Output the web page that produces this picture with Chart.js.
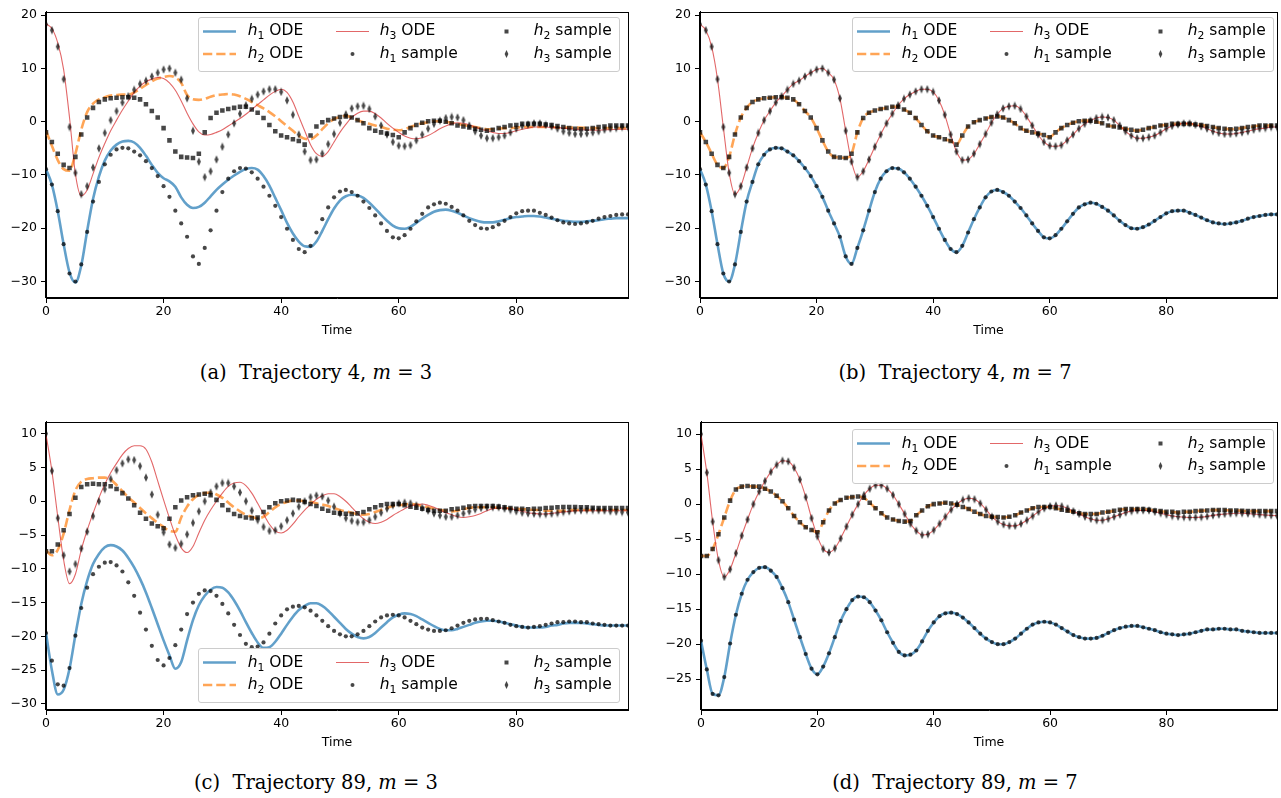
<!DOCTYPE html>
<html>
<head>
<meta charset="utf-8">
<script src="https://cdn.jsdelivr.net/npm/chart.js@4.4.1/dist/chart.umd.min.js"></script>
<style>
  body { margin: 0; background: #fff; width: 1281px; height: 798px; position: relative; overflow: hidden; font-family: "DejaVu Sans", sans-serif; }
  .panel { position: absolute; }
  .legend { position: absolute; width: 422px; height: 55px; box-sizing: border-box; border: 1px solid #cccccc; border-radius: 3px; background: rgba(255,255,255,0.8); }
  .legend svg { position: absolute; left: -1px; top: -1px; }
  .lt { position: absolute; font-size: 15.5px; line-height: 1; white-space: nowrap; transform: translateY(-50%); color: #000; }
  .lt sub { font-size: 0.7em; vertical-align: -0.3em; line-height: 0; }
  .caption { position: absolute; font-family: "DejaVu Serif", serif; font-size: 19.5px; line-height: 1; white-space: nowrap; transform: translate(-50%, -50%); color: #000; }
</style>
</head>
<body>
<div class="panel" style="left:0px;top:0px"><canvas id="ca" width="640" height="345"></canvas></div>
<div class="panel" style="left:655px;top:0px"><canvas id="cb" width="626" height="345"></canvas></div>
<div class="panel" style="left:0px;top:410px"><canvas id="cc" width="640" height="345"></canvas></div>
<div class="panel" style="left:655px;top:410px"><canvas id="cd" width="626" height="345"></canvas></div>

<div class="caption" style="left:316px;top:373px">(a)&nbsp; Trajectory 4, <i>m</i> = 3</div>
<div class="caption" style="left:955px;top:373px">(b)&nbsp; Trajectory 4, <i>m</i> = 7</div>
<div class="caption" style="left:316px;top:783px">(c)&nbsp; Trajectory 89, <i>m</i> = 3</div>
<div class="caption" style="left:955px;top:783px">(d)&nbsp; Trajectory 89, <i>m</i> = 7</div>

<script>
const time = [
  0, 1, 2, 3, 4, 5, 6, 7, 8, 9,
  10, 11, 12, 13, 14, 15, 16, 17, 18, 19,
  20, 21, 22, 23, 24, 25, 26, 27, 28, 29,
  30, 31, 32, 33, 34, 35, 36, 37, 38, 39,
  40, 41, 42, 43, 44, 45, 46, 47, 48, 49,
  50, 51, 52, 53, 54, 55, 56, 57, 58, 59,
  60, 61, 62, 63, 64, 65, 66, 67, 68, 69,
  70, 71, 72, 73, 74, 75, 76, 77, 78, 79,
  80, 81, 82, 83, 84, 85, 86, 87, 88, 89,
  90, 91, 92, 93, 94, 95, 96, 97, 98, 99
];

// trajectory 4 samples (also the m = 7 fit, which sits on them)
const traj4H1 = [
  -8.9, -11.8, -16.8, -23.0, -28.5, -30.0, -26.8, -20.7, -15.0, -11.3,
  -8.0, -6.2, -5.2, -4.9, -5.0, -5.6, -6.3, -7.4, -8.7, -10.2,
  -12.1, -14.1, -16.7, -19.1, -21.6, -25.3, -26.7, -23.7, -20.4, -16.7,
  -13.2, -10.7, -9.3, -8.7, -8.8, -9.5, -10.7, -12.2, -13.9, -15.8,
  -17.9, -20.1, -22.2, -23.9, -24.5, -23.3, -20.8, -18.3, -16.1, -14.2,
  -13.1, -12.8, -13.2, -13.9, -15.0, -16.2, -17.6, -19.1, -20.5, -21.7,
  -21.9, -21.3, -20.1, -18.7, -17.3, -16.1, -15.5, -15.2, -15.4, -16.0,
  -16.7, -17.6, -18.6, -19.4, -20.0, -20.1, -19.8, -19.3, -18.6, -17.9,
  -17.2, -16.8, -16.7, -16.7, -17.1, -17.5, -18.0, -18.5, -18.9, -19.1,
  -19.2, -19.1, -18.9, -18.6, -18.2, -17.9, -17.7, -17.5, -17.4, -17.4
];
const traj4H2 = [
  -2.0, -3.8, -6.0, -8.1, -8.7, -6.6, -2.4, 0.8, 2.6, 3.7,
  4.2, 4.4, 4.5, 4.6, 4.6, 4.5, 4.2, 3.3, 2.0, 0.8,
  -1.2, -3.5, -5.6, -6.6, -6.7, -6.8, -6.0, -2.0, 0.7, 1.7,
  2.1, 2.4, 2.6, 2.8, 2.8, 2.3, 1.7, 0.7, -0.6, -1.8,
  -2.6, -2.9, -3.3, -3.6, -4.3, -2.6, -0.9, -0.1, 0.3, 0.6,
  0.9, 1.0, 0.8, 0.3, -0.3, -1.2, -1.7, -2.0, -2.2, -2.5,
  -2.9, -2.0, -1.2, -0.6, -0.2, 0.1, 0.2, 0.2, 0.0, -0.3,
  -0.7, -0.9, -1.1, -1.3, -1.5, -1.7, -1.5, -1.2, -1.0, -0.7,
  -0.6, -0.4, -0.4, -0.4, -0.4, -0.5, -0.6, -0.8, -1.0, -1.2,
  -1.3, -1.4, -1.3, -1.2, -1.0, -0.9, -0.7, -0.7, -0.7, -0.7
];
const traj4H3 = [
  18.3, 17.2, 14.1, 8.0, -1.0, -9.6, -13.6, -12.1, -8.6, -5.0,
  -2.1, 0.3, 2.0, 3.6, 4.8, 6.0, 7.1, 7.7, 8.5, 9.2,
  9.8, 10.0, 9.2, 7.9, 4.4, -1.7, -7.5, -10.4, -9.3, -7.1,
  -4.7, -2.4, -0.3, 1.5, 3.1, 4.3, 5.1, 5.7, 6.1, 6.1,
  5.6, 4.0, 1.3, -2.4, -5.6, -7.2, -7.1, -6.0, -4.2, -2.3,
  -0.2, 1.4, 2.5, 2.9, 3.0, 2.4, 1.0, -0.7, -2.4, -3.8,
  -4.5, -4.6, -4.4, -3.5, -2.4, -1.3, -0.4, 0.2, 0.7, 0.9,
  0.8, 0.3, -0.7, -1.8, -2.6, -3.1, -3.1, -2.9, -2.6, -2.0,
  -1.3, -0.8, -0.5, -0.3, -0.3, -0.6, -0.9, -1.3, -1.8, -2.1,
  -2.3, -2.3, -2.2, -2.0, -1.8, -1.5, -1.3, -1.2, -1.0, -1.0
];

// trajectory 89 samples (also the m = 7 fit)
const traj89H1 = [
  -19.5, -23.6, -27.1, -27.3, -24.7, -19.9, -15.8, -12.8, -10.8, -9.7,
  -9.1, -9.0, -9.5, -10.4, -12.0, -14.0, -16.5, -19.0, -21.4, -23.5,
  -24.3, -23.2, -21.3, -19.0, -16.7, -15.0, -13.7, -13.2, -13.3, -14.0,
  -15.2, -16.6, -18.3, -19.8, -21.1, -21.6, -21.5, -20.9, -19.6, -18.1,
  -16.9, -16.0, -15.6, -15.5, -15.7, -16.2, -16.9, -17.7, -18.5, -19.2,
  -19.7, -20.0, -20.0, -19.7, -19.2, -18.5, -17.8, -17.2, -16.9, -16.8,
  -16.9, -17.2, -17.7, -18.2, -18.7, -19.0, -19.2, -19.2, -19.1, -18.8,
  -18.4, -18.0, -17.7, -17.5, -17.4, -17.4, -17.6, -17.8, -18.0, -18.3,
  -18.5, -18.6, -18.7, -18.6, -18.5, -18.3, -18.1, -17.9, -17.9, -17.8,
  -17.8, -17.9, -17.9, -18.1, -18.2, -18.3, -18.4, -18.4, -18.4, -18.4
];
const traj89H2 = [
  -7.4, -7.4, -6.4, -4.3, -1.9, 0.5, 2.1, 2.5, 2.6, 2.5,
  2.5, 2.2, 1.8, 1.2, 0.4, -0.6, -1.7, -2.6, -3.3, -3.7,
  -4.0, -2.6, -0.9, 0.1, 0.6, 0.9, 1.0, 1.1, 0.9, 0.2,
  -0.6, -1.3, -1.9, -2.2, -2.4, -2.5, -2.4, -1.6, -0.9, -0.3,
  0.0, 0.1, 0.2, 0.1, -0.1, -0.4, -0.7, -1.1, -1.4, -1.7,
  -1.8, -1.85, -1.9, -1.8, -1.6, -1.2, -0.9, -0.6, -0.4, -0.4,
  -0.4, -0.6, -0.8, -0.95, -1.1, -1.3, -1.4, -1.4, -1.4, -1.2,
  -1.1, -0.95, -0.8, -0.7, -0.7, -0.7, -0.7, -0.8, -0.9, -1.0,
  -1.1, -1.1, -1.2, -1.1, -1.1, -1.0, -0.95, -0.9, -0.85, -0.85,
  -0.85, -0.9, -0.9, -0.95, -1.0, -1.0, -1.0, -1.0, -1.0, -1.0
];
const traj89H3 = [
  10.0, 4.5, -2.5, -8.0, -10.4, -9.3, -7.0, -4.5, -2.2, 0.0,
  1.8, 3.3, 4.6, 5.6, 6.2, 6.1, 5.2, 3.5, 1.0, -2.0,
  -4.6, -6.4, -6.9, -6.3, -4.9, -3.2, -1.5, 0.0, 1.3, 2.2,
  2.7, 2.7, 2.2, 1.3, 0.0, -1.4, -2.8, -3.8, -4.4, -4.3,
  -3.7, -2.8, -1.8, -0.8, 0.0, 0.6, 0.85, 0.7, 0.1, -0.8,
  -1.8, -2.5, -2.9, -3.1, -3.1, -2.8, -2.3, -1.7, -1.1, -0.6,
  -0.3, -0.2, -0.3, -0.6, -1.0, -1.4, -1.8, -2.1, -2.3, -2.3,
  -2.1, -1.8, -1.5, -1.2, -1.0, -0.9, -0.9, -0.9, -1.1, -1.3,
  -1.5, -1.7, -1.8, -1.85, -1.9, -1.9, -1.85, -1.75, -1.6, -1.5,
  -1.4, -1.35, -1.3, -1.3, -1.35, -1.4, -1.5, -1.55, -1.6, -1.65
];

// ODE with m = 3, trajectory 4
const odeA_h1 = [
  -8.9, -11.8, -16.8, -23.0, -28.3, -30.2, -27.0, -20.5, -14.5, -10.3,
  -7.3, -5.4, -4.3, -3.7, -3.6, -3.9, -4.9, -6.4, -8.1, -9.6,
  -10.6, -11.2, -12.2, -14.2, -15.6, -16.2, -16.0, -15.2, -14.0, -12.8,
  -11.8, -10.9, -10.1, -9.4, -8.9, -8.7, -9.0, -10.2, -12.0, -14.3,
  -16.6, -19.0, -21.0, -22.5, -23.4, -23.5, -22.5, -20.5, -18.3, -16.3,
  -14.8, -14.0, -13.7, -13.8, -14.3, -15.2, -16.3, -17.5, -18.6, -19.5,
  -20.0, -20.1, -19.7, -19.0, -18.2, -17.5, -16.9, -16.6, -16.5, -16.7,
  -17.1, -17.6, -18.1, -18.5, -18.8, -18.9, -18.9, -18.7, -18.4, -18.1,
  -17.9, -17.8, -17.7, -17.7, -17.8, -18.0, -18.2, -18.4, -18.6, -18.7,
  -18.8, -18.8, -18.7, -18.6, -18.5, -18.3, -18.2, -18.1, -18.1, -18.1
];
const odeA_h2 = [
  -1.7, -4.5, -7.2, -8.9, -9.2, -6.0, -1.5, 1.8, 3.4, 4.2,
  4.6, 4.9, 5.0, 5.1, 5.1, 5.5, 6.2, 6.9, 7.6, 8.1,
  8.4, 8.6, 8.3, 7.3, 5.0, 4.2, 4.1, 4.3, 4.7, 5.0,
  5.1, 5.2, 5.1, 4.8, 4.3, 3.7, 3.1, 2.5, 1.8, 1.0,
  0.1, -0.8, -1.7, -2.6, -3.2, -3.3, -2.6, -1.4, -0.3, 0.5,
  0.9, 1.1, 0.8, 0.3, -0.1, -0.4, -0.7, -1.0, -1.3, -1.5,
  -1.6, -1.4, -1.0, -0.6, -0.3, -0.1, 0.1, 0.1, 0.0, -0.2,
  -0.4, -0.6, -0.8, -1.0, -1.2, -1.4, -1.4, -1.3, -1.2, -1.2,
  -1.1, -1.0, -1.0, -1.0, -1.0, -1.0, -1.0, -1.1, -1.1, -1.1,
  -1.1, -1.1, -1.2, -1.2, -1.2, -1.2, -1.2, -1.2, -1.2, -1.2
];
const odeA_h3 = [
  18.4, 17.5, 14.8, 9.8, 0.8, -9.8, -13.9, -12.8, -9.8, -6.7,
  -4.1, -1.7, 0.3, 2.2, 3.9, 5.5, 6.7, 7.5, 8.0, 8.3,
  8.1, 7.3, 5.9, 3.9, 1.6, -0.4, -1.9, -2.5, -2.4, -2.0,
  -1.5, -0.8, -0.1, 0.6, 1.4, 2.3, 3.2, 4.1, 5.0, 5.7,
  6.1, 5.5, 3.7, 1.0, -1.7, -4.3, -6.0, -6.5, -5.6, -3.8,
  -2.0, -0.5, 0.8, 1.6, 2.0, 2.0, 1.5, 0.7, -0.3, -1.2,
  -2.0, -2.7, -3.1, -3.2, -3.0, -2.6, -2.0, -1.3, -0.8, -0.4,
  -0.2, -0.3, -0.6, -1.0, -1.4, -1.7, -2.0, -2.2, -2.2, -2.0,
  -1.7, -1.4, -1.2, -1.0, -1.0, -1.0, -1.1, -1.1, -1.2, -1.3,
  -1.4, -1.5, -1.5, -1.6, -1.6, -1.5, -1.5, -1.4, -1.4, -1.4
];

// ODE with m = 3, trajectory 89
const odeC_h1 = [
  -19.5, -25.0, -28.6, -27.9, -24.8, -19.8, -15.2, -11.8, -9.3, -7.8,
  -6.8, -6.5, -6.7, -7.3, -8.4, -9.8, -11.5, -13.5, -15.8, -18.2,
  -20.6, -22.8, -24.8, -23.8, -20.6, -17.6, -15.4, -14.0, -13.1, -12.7,
  -12.8, -13.5, -14.7, -16.2, -17.9, -19.5, -20.9, -21.7, -21.6, -20.8,
  -19.6, -18.3, -17.1, -16.1, -15.5, -15.1, -15.1, -15.5, -16.2, -17.1,
  -18.0, -18.9, -19.6, -20.1, -20.3, -20.1, -19.5, -18.7, -17.9, -17.2,
  -16.8, -16.6, -16.7, -17.0, -17.5, -18.0, -18.5, -18.9, -19.1, -19.1,
  -18.9, -18.6, -18.3, -18.0, -17.8, -17.7, -17.7, -17.8, -18.0, -18.2,
  -18.4, -18.6, -18.7, -18.7, -18.7, -18.6, -18.4, -18.3, -18.1, -18.0,
  -18.0, -18.0, -18.1, -18.2, -18.3, -18.4, -18.4, -18.4, -18.4, -18.4
];
const odeC_h2 = [
  -7.3, -8.0, -7.2, -4.8, -1.3, 1.6, 2.9, 3.3, 3.4, 3.5,
  3.5, 3.2, 2.4, 1.5, 0.6, -0.2, -1.0, -1.8, -2.5, -3.2,
  -3.8, -4.4, -4.5, -2.4, -0.8, 0.3, 0.9, 1.2, 1.3, 1.0,
  0.5, -0.2, -0.9, -1.5, -2.0, -2.3, -2.5, -2.3, -1.6, -0.9,
  -0.4, -0.1, 0.1, 0.1, 0.0, -0.1, -0.3, -0.5, -0.7, -1.0,
  -1.3, -1.5, -1.7, -1.9, -2.0, -1.9, -1.6, -1.3, -1.0, -0.7,
  -0.6, -0.5, -0.4, -0.5, -0.7, -0.9, -1.1, -1.3, -1.4, -1.5,
  -1.4, -1.2, -1.0, -0.9, -0.9, -0.9, -0.9, -1.0, -1.0, -1.1,
  -1.1, -1.2, -1.2, -1.3, -1.3, -1.4, -1.4, -1.4, -1.4, -1.3,
  -1.3, -1.3, -1.3, -1.3, -1.3, -1.3, -1.3, -1.3, -1.3, -1.3
];
const odeC_h3 = [
  9.9, 4.5, -2.3, -8.7, -12.2, -10.8, -7.2, -4.3, -1.8, 0.5,
  2.5, 4.2, 5.6, 6.9, 7.8, 8.2, 8.2, 7.7, 5.8, 3.0,
  0.2, -2.5, -5.0, -6.9, -7.6, -6.7, -4.7, -2.8, -1.3, 0.0,
  1.2, 2.2, 2.7, 2.8, 2.3, 1.2, -0.3, -1.9, -3.4, -4.4,
  -4.7, -4.3, -3.4, -2.3, -1.3, -0.5, 0.3, 0.8, 1.1, 1.1,
  0.7, 0.0, -0.9, -1.8, -2.6, -3.1, -3.3, -3.1, -2.7, -2.1,
  -1.6, -1.1, -0.7, -0.5, -0.4, -0.6, -0.9, -1.3, -1.7, -2.0,
  -2.3, -2.4, -2.3, -2.1, -1.8, -1.4, -1.1, -1.0, -1.0, -1.1,
  -1.3, -1.5, -1.7, -1.8, -1.9, -1.9, -1.8, -1.7, -1.6, -1.5,
  -1.4, -1.4, -1.4, -1.4, -1.4, -1.4, -1.4, -1.4, -1.4, -1.4
];

const BLUE = "rgba(31, 119, 180, 0.7)";
const ORANGE = "rgba(255, 127, 14, 0.7)";
const RED = "rgba(214, 39, 40, 0.7)";
const DOT = "rgba(0, 0, 0, 0.72)";
const tickFont = { family: "DejaVu Sans", size: 12.5 };

// thin diamond like matplotlib's "d" marker
const thinDiamond = document.createElement("canvas");
thinDiamond.width = 6;
thinDiamond.height = 9;
(function () {
    const c = thinDiamond.getContext("2d");
    c.fillStyle = DOT;
    c.beginPath();
    c.moveTo(3, 0.3);
    c.lineTo(5, 4.5);
    c.lineTo(3, 8.7);
    c.lineTo(1, 4.5);
    c.closePath();
    c.fill();
})();

function fmt(v) {
    return String(v).replace("-", "\u2212");
}

const frame = {
    id: "frame",
    afterDraw(chart) {
        const { ctx, chartArea: a } = chart;
        ctx.save();
        ctx.strokeStyle = "#000";
        ctx.lineWidth = 1;
        ctx.strokeRect(Math.round(a.left) - 0.5, Math.round(a.top) + 0.5,
            Math.round(a.right) - Math.round(a.left) + 1, Math.round(a.bottom) - Math.round(a.top) - 1);
        ctx.restore();
    },
};

function points(vals) {
    return time.map((t, i) => ({ x: t, y: vals[i] }));
}

function odeLine(vals, color, width, dash, order) {
    return {
        data: points(vals),
        borderColor: color,
        borderWidth: width,
        borderDash: dash,
        pointRadius: 0,
        fill: false,
        cubicInterpolationMode: "monotone",
        order: order,
    };
}

function sampleSet(vals, style, radius, order) {
    return {
        data: points(vals),
        showLine: false,
        pointStyle: style,
        pointRadius: radius,
        pointBackgroundColor: DOT,
        pointBorderWidth: 0,
        pointBorderColor: "rgba(0,0,0,0)",
        order: order,
    };
}

function makeChart(id, lines, samples, yMin, yMax, yStep, yWidth, pad) {
    const ctx = document.getElementById(id).getContext("2d");
    return new Chart(ctx, {
        type: "line",
        data: {
            datasets: [
                odeLine(lines[0], BLUE, 2.6, [], 6),
                odeLine(lines[1], ORANGE, 2.6, [9.25, 4], 5),
                odeLine(lines[2], RED, 1.1, [], 4),
                sampleSet(samples[0], "circle", 2.1, 3),
                sampleSet(samples[1], "rect", 3.2, 2),
                sampleSet(samples[2], thinDiamond, 3, 1),
            ],
        },
        options: {
            responsive: false,
            animation: false,
            events: [],
            layout: { padding: pad },
            plugins: {
                legend: { display: false },
                tooltip: { enabled: false },
            },
            scales: {
                x: {
                    type: "linear",
                    min: 0,
                    max: 99,
                    ticks: { stepSize: 20, includeBounds: false, color: "#000", font: tickFont, padding: 1, maxRotation: 0, callback: fmt },
                    grid: { drawOnChartArea: false, tickLength: 5, color: "#000" },
                    border: { color: "#000" },
                    title: { display: true, text: "Time", color: "#000", font: tickFont, padding: 0 },
                    afterFit: (s) => { s.height = 40; },
                },
                y: {
                    type: "linear",
                    min: yMin,
                    max: yMax,
                    ticks: { stepSize: yStep, includeBounds: false, color: "#000", font: tickFont, padding: 4, callback: fmt },
                    grid: { drawOnChartArea: false, tickLength: 5, color: "#000" },
                    border: { color: "#000" },
                    afterFit: (s) => { s.width = yWidth; },
                },
            },
        },
        plugins: [frame],
    });
}

makeChart("ca", [odeA_h1, odeA_h2, odeA_h3], [traj4H1, traj4H2, traj4H3], -33.1, 20.7, 10, 46, { top: 9, right: 12, bottom: 7, left: 0 });
makeChart("cb", [traj4H1, traj4H2, traj4H3], [traj4H1, traj4H2, traj4H3], -33.1, 20.7, 10, 45, { top: 9, right: 2, bottom: 7, left: 0 });
makeChart("cc", [odeC_h1, odeC_h2, odeC_h3], [traj89H1, traj89H2, traj89H3], -30.9, 11.8, 5, 46, { top: 11, right: 12, bottom: 5, left: 0 });
makeChart("cd", [traj89H1, traj89H2, traj89H3], [traj89H1, traj89H2, traj89H3], -29.4, 11.8, 5, 46, { top: 11, right: 2, bottom: 5, left: 0 });

// legends drawn as html boxes, three columns like matplotlib's ncol=3
function addLegend(left, top) {
    const box = document.createElement("div");
    box.className = "legend";
    box.style.left = left + "px";
    box.style.top = top + "px";
    const r1 = 14.5, r2 = 37;
    box.innerHTML =
        '<svg width="422" height="55">' +
        '<line x1="5" y1="' + r1 + '" x2="38" y2="' + r1 + '" stroke="' + BLUE + '" stroke-width="2.6"/>' +
        '<line x1="5" y1="' + r2 + '" x2="38" y2="' + r2 + '" stroke="' + ORANGE + '" stroke-width="2.6" stroke-dasharray="9.25 4"/>' +
        '<line x1="138" y1="' + r1 + '" x2="171" y2="' + r1 + '" stroke="' + RED + '" stroke-width="1.1"/>' +
        '<circle cx="154.5" cy="' + r2 + '" r="2" fill="' + DOT + '"/>' +
        '<rect x="306.5" y="' + (r1 - 2) + '" width="4" height="4" fill="' + DOT + '"/>' +
        '<polygon points="308.5,' + (r2 - 4) + ' 310.4,' + r2 + ' 308.5,' + (r2 + 4) + ' 306.6,' + r2 + '" fill="' + DOT + '"/>' +
        '</svg>' +
        '<span class="lt" style="left:49px;top:' + (r1 - 1) + 'px"><i>h</i><sub>1</sub> ODE</span>' +
        '<span class="lt" style="left:49px;top:' + (r2 - 1) + 'px"><i>h</i><sub>2</sub> ODE</span>' +
        '<span class="lt" style="left:181px;top:' + (r1 - 1) + 'px"><i>h</i><sub>3</sub> ODE</span>' +
        '<span class="lt" style="left:181px;top:' + (r2 - 1) + 'px"><i>h</i><sub>1</sub> sample</span>' +
        '<span class="lt" style="left:335px;top:' + (r1 - 1) + 'px"><i>h</i><sub>2</sub> sample</span>' +
        '<span class="lt" style="left:335px;top:' + (r2 - 1) + 'px"><i>h</i><sub>3</sub> sample</span>';
    document.body.appendChild(box);
}

addLegend(197.7, 16.7);
addLegend(851.7, 16.7);
addLegend(197.7, 648.3);
addLegend(851.7, 429.3);
</script>
</body>
</html>
